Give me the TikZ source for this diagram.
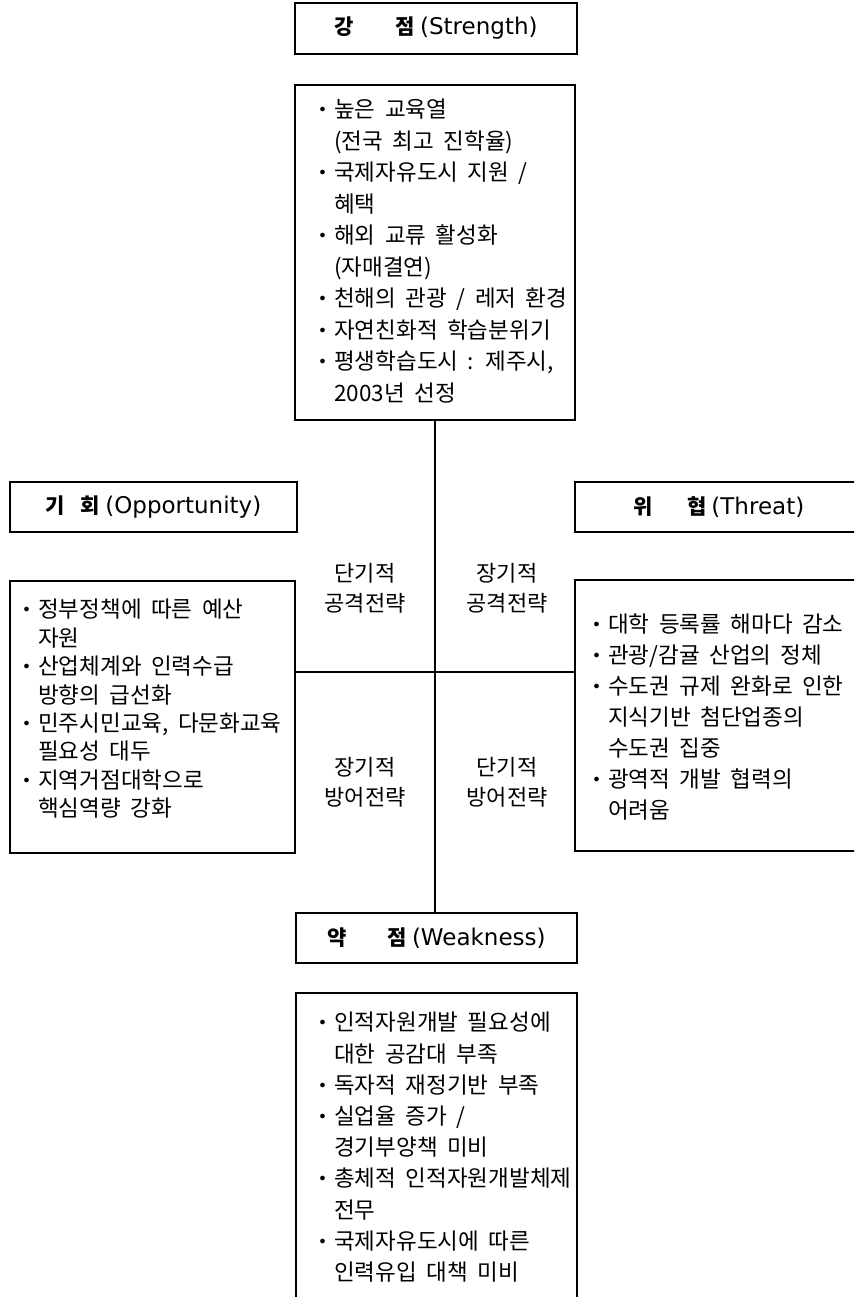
\documentclass[tikz,border=0pt]{standalone}
\usepackage{fontspec}
\newfontfamily\kr{Noto Sans CJK KR}
\newfontfamily\dv{DejaVu Sans}
\newcommand\sbul{\makebox[15pt][l]{\hspace{0.5pt}\raisebox{5pt}{\fontsize{13}{13}\selectfont$\bullet$}}}
\newcommand\sind{\hspace*{15pt}}
\newcommand\lat[1]{{\dv\mdseries\fontsize{23}{24}\selectfont #1}}
\newcommand\bodyfont[1]{\kr\fontsize{22.5}{#1}\selectfont\spaceskip=9.5pt plus 1pt minus 2pt\relax}
\tikzset{
  frame/.style={draw, line width=1.8pt, inner sep=0pt},
  hdbox/.style={frame, minimum height=51pt, font=\kr\bfseries\fontsize{21}{24}\selectfont},
  body/.style={anchor=north west, align=left, inner sep=0pt},
  quad/.style={align=center, inner sep=0pt, font=\kr\fontsize{22}{30}\selectfont},
  cross/.style={line width=2.4pt},
}
\begin{document}
\begin{tikzpicture}[x=1pt,y=-1pt]
\useasboundingbox (0,0) rectangle (854,1297);
\clip (0,0) rectangle (854,1297);
% headers
\node[hdbox, minimum width=282pt] (shead) at (436,28.5) {강\hspace{42pt}점\hspace{5pt}\lat{(Strength)}};
\node[hdbox, minimum width=287pt, minimum height=50pt] (ohead) at (153.5,507) {기\hspace{16pt}회\hspace{5pt}\lat{(Opportunity)}};
\node[hdbox, minimum width=288pt, minimum height=50pt] (thead) at (719,507) {위\hspace{34pt}협\hspace{5pt}\lat{(Threat)}};
\node[hdbox, minimum width=281pt, minimum height=50pt] (whead) at (436.5,938) {약\hspace{41pt}점\hspace{5pt}\lat{(Weakness)}};
% content frames
\node[frame, minimum width=280pt, minimum height=335pt] (sbox) at (435,252.5) {};
\node[frame, minimum width=285pt, minimum height=272pt] (obox) at (152.5,717) {};
\node[frame, minimum width=300pt, minimum height=271pt] (tbox) at (725,715.5) {};
\node[frame, minimum width=281pt, minimum height=314pt] (wbox) at (436.5,1150) {};
% content texts
\node[body, font=\bodyfont{31.5}] (stxt) at (319,99) {%
\sbul 높은 교육열\\
\sind (전국 최고 진학율)\\
\sbul 국제자유도시 지원 /\\
\sind 혜택\\
\sbul 해외 교류 활성화\\
\sind (자매결연)\\
\sbul 천해의 관광 / 레저 환경\\
\sbul 자연친화적 학습분위기\\
\sbul 평생학습도시 : 제주시,\\
\sind 2003년 선정};
\node[body, font=\bodyfont{28.4}] (otxt) at (23,599) {%
\sbul 정부정책에 따른 예산\\
\sind 자원\\
\sbul 산업체계와 인력수급\\
\sind 방향의 급선화\\
\sbul 민주시민교육, 다문화교육\\
\sind 필요성 대두\\
\sbul 지역거점대학으로\\
\sind 핵심역량 강화};
\node[body, font=\bodyfont{31}] (ttxt) at (593,614) {%
\sbul 대학 등록률 해마다 감소\\
\sbul 관광/감귤 산업의 정체\\
\sbul 수도권 규제 완화로 인한\\
\sind 지식기반 첨단업종의\\
\sind 수도권 집중\\
\sbul 광역적 개발 협력의\\
\sind 어려움};
\node[body, font=\bodyfont{31.2}] (wtxt) at (319,1012) {%
\sbul 인적자원개발 필요성에\\
\sind 대한 공감대 부족\\
\sbul 독자적 재정기반 부족\\
\sbul 실업율 증가 /\\
\sind 경기부양책 미비\\
\sbul 총체적 인적자원개발체제\\
\sind 전무\\
\sbul 국제자유도시에 따른\\
\sind 인력유입 대책 미비};
% cross lines
\coordinate (hy) at (0,672);
\draw[cross] (sbox.south) -- (sbox.south |- whead.north);
\draw[cross] (obox.east |- hy) -- (tbox.west |- hy);
% quadrant labels
\node[quad] (q1) at (365,588) {단기적\\공격전략};
\node[quad] (q2) at (507,588) {장기적\\공격전략};
\node[quad] (q3) at (365,782) {장기적\\방어전략};
\node[quad] (q4) at (507,782) {단기적\\방어전략};
\end{tikzpicture}
\end{document}
